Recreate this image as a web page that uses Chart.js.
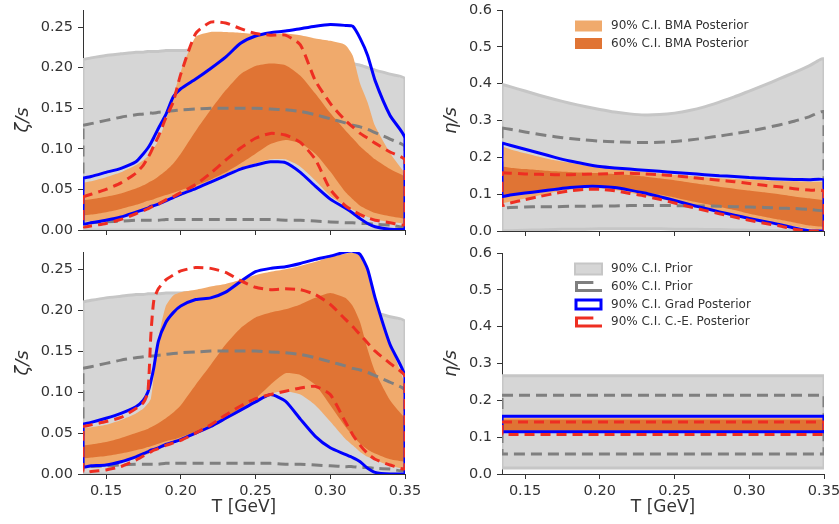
<!DOCTYPE html>
<html><head><meta charset="utf-8">
<script src="https://cdn.jsdelivr.net/npm/chart.js@4.4.0/dist/chart.umd.min.js"></script>
<style>
html,body{margin:0;padding:0;background:#fff;}
#wrap{position:relative;width:839px;height:524px;overflow:hidden;background:#fff;}
canvas{position:absolute;}
</style></head><body>
<div id="wrap">
<canvas id="cTL" width="440" height="250" style="left:0;top:0;width:440px;height:250px"></canvas>
<canvas id="cBL" width="440" height="279" style="left:0;top:245px;width:440px;height:279px"></canvas>
<canvas id="cTR" width="419" height="250" style="left:420px;top:0;width:419px;height:250px"></canvas>
<canvas id="cBR" width="419" height="279" style="left:420px;top:245px;width:419px;height:279px"></canvas>
</div>
<script>
// ---------- DATA ----------
const xTicks = [0.15, 0.20, 0.25, 0.30, 0.35];
const zetaTicks = [0.00, 0.05, 0.10, 0.15, 0.20, 0.25];
const etaTicks = [0.0, 0.1, 0.2, 0.3, 0.4, 0.5, 0.6];
const legendBMA = ['90% C.I. BMA Posterior', '60% C.I. BMA Posterior'];
const legendMain = ['90% C.I. Prior', '60% C.I. Prior', '90% C.I. Grad Posterior', '90% C.I. C.-E. Posterior'];

// temperature grid for zeta/s panels
const T = [0.1346,0.14,0.15,0.16,0.17,0.175,0.178,0.18,0.182,0.185,0.19,0.195,0.20,0.21,0.22,0.23,0.24,0.25,0.26,0.27,0.28,0.29,0.30,0.31,0.315,0.32,0.325,0.33,0.34,0.35];

// prior (zeta/s)
const priorZeta90Hi = [0.210,0.212,0.215,0.217,0.219,0.219,0.220,0.220,0.220,0.220,0.221,0.221,0.221,0.222,0.222,0.222,0.222,0.222,0.221,0.220,0.218,0.215,0.212,0.207,0.205,0.203,0.200,0.197,0.192,0.186];
const priorZeta90Lo = [0,0,0,0,0,0,0,0,0,0,0,0,0,0,0,0,0,0,0,0,0,0,0,0,0,0,0,0,0,0];
const priorZeta60Hi = [0.129,0.131,0.135,0.139,0.142,0.143,0.144,0.144,0.144,0.145,0.146,0.147,0.148,0.149,0.150,0.150,0.150,0.150,0.149,0.148,0.146,0.142,0.137,0.132,0.129,0.127,0.124,0.120,0.112,0.102];
const priorZeta60Lo = [0.008,0.009,0.010,0.011,0.012,0.012,0.012,0.012,0.012,0.012,0.013,0.013,0.013,0.013,0.013,0.013,0.013,0.013,0.013,0.012,0.012,0.011,0.010,0.009,0.009,0.008,0.008,0.007,0.006,0.005];

// top-left zeta/s posteriors
const tlGradHi = [0.064,0.066,0.071,0.076,0.084,0.094,0.101,0.107,0.114,0.125,0.142,0.164,0.174,0.186,0.199,0.213,0.230,0.239,0.243,0.245,0.248,0.251,0.253,0.252,0.251,0.236,0.215,0.184,0.141,0.113];
const tlGradLo = [0.008,0.009,0.012,0.016,0.022,0.025,0.027,0.029,0.030,0.032,0.036,0.040,0.044,0.051,0.059,0.067,0.075,0.080,0.084,0.083,0.071,0.054,0.038,0.027,0.021,0.014,0.008,0.004,0.001,0.001];
const tlCEHi = [0.041,0.044,0.050,0.058,0.070,0.080,0.089,0.096,0.104,0.115,0.138,0.158,0.192,0.242,0.256,0.255,0.248,0.242,0.240,0.240,0.228,0.184,0.156,0.135,0.127,0.119,0.113,0.107,0.096,0.086];
const tlCELo = [0.004,0.005,0.008,0.013,0.020,0.024,0.026,0.028,0.030,0.032,0.037,0.041,0.046,0.056,0.070,0.086,0.101,0.113,0.119,0.117,0.108,0.087,0.050,0.030,0.024,0.019,0.015,0.012,0.009,0.007];
const tlBma90Hi = [0.058,0.060,0.065,0.071,0.080,0.086,0.091,0.095,0.101,0.110,0.135,0.165,0.195,0.238,0.244,0.244,0.243,0.241,0.241,0.242,0.240,0.236,0.233,0.228,0.215,0.180,0.157,0.128,0.095,0.070];
const tlBma90Lo = [0.010,0.011,0.013,0.017,0.023,0.026,0.028,0.030,0.031,0.034,0.038,0.042,0.046,0.053,0.061,0.069,0.077,0.082,0.087,0.087,0.078,0.061,0.042,0.030,0.025,0.020,0.016,0.013,0.010,0.008];
const tlBma60Hi = [0.037,0.038,0.041,0.045,0.051,0.055,0.058,0.060,0.062,0.066,0.073,0.082,0.094,0.122,0.148,0.172,0.192,0.202,0.205,0.203,0.190,0.168,0.144,0.123,0.113,0.103,0.095,0.087,0.075,0.066];
const tlBma60Lo = [0.018,0.019,0.022,0.026,0.031,0.034,0.036,0.037,0.038,0.040,0.043,0.046,0.049,0.055,0.062,0.071,0.082,0.094,0.106,0.111,0.107,0.094,0.072,0.047,0.038,0.030,0.025,0.021,0.017,0.014];

// bottom-left zeta/s posteriors
const blGradHi = [0.061,0.063,0.068,0.074,0.082,0.090,0.100,0.113,0.130,0.162,0.185,0.197,0.205,0.213,0.215,0.222,0.235,0.247,0.251,0.253,0.257,0.262,0.266,0.271,0.272,0.268,0.250,0.215,0.158,0.119];
const blGradLo = [0.009,0.010,0.011,0.015,0.021,0.025,0.027,0.029,0.030,0.032,0.036,0.039,0.042,0.050,0.058,0.068,0.078,0.088,0.097,0.089,0.067,0.046,0.032,0.024,0.020,0.015,0.007,0.002,0.000,0.000];
const blCEHi = [0.058,0.060,0.064,0.069,0.080,0.087,0.100,0.170,0.212,0.226,0.237,0.243,0.248,0.252,0.251,0.246,0.236,0.228,0.225,0.226,0.225,0.219,0.207,0.189,0.180,0.170,0.160,0.150,0.135,0.119];
const blCELo = [0.002,0.003,0.005,0.009,0.017,0.022,0.025,0.027,0.029,0.031,0.035,0.038,0.041,0.050,0.060,0.072,0.083,0.092,0.097,0.101,0.105,0.107,0.097,0.064,0.048,0.035,0.025,0.018,0.011,0.007];
const blBma90Hi = [0.056,0.057,0.060,0.066,0.074,0.080,0.086,0.092,0.120,0.165,0.205,0.218,0.222,0.225,0.229,0.232,0.237,0.243,0.247,0.250,0.254,0.259,0.265,0.269,0.270,0.266,0.248,0.215,0.160,0.110];
const blBma90Lo = [0.007,0.008,0.011,0.014,0.019,0.022,0.024,0.026,0.028,0.030,0.034,0.038,0.041,0.048,0.056,0.066,0.076,0.088,0.098,0.101,0.097,0.084,0.064,0.043,0.035,0.027,0.021,0.017,0.010,0.006];
const blBma60Hi = [0.035,0.036,0.039,0.044,0.050,0.053,0.055,0.057,0.059,0.062,0.068,0.075,0.084,0.109,0.133,0.158,0.178,0.191,0.197,0.201,0.207,0.215,0.221,0.215,0.205,0.185,0.152,0.125,0.090,0.068];
const blBma60Lo = [0.019,0.020,0.022,0.025,0.029,0.031,0.033,0.034,0.035,0.037,0.040,0.042,0.045,0.052,0.060,0.070,0.080,0.092,0.109,0.123,0.121,0.109,0.084,0.058,0.047,0.037,0.030,0.025,0.018,0.015];

// temperature grid for top-right eta/s panel
const TE = [0.1346,0.14,0.15,0.16,0.17,0.18,0.19,0.20,0.21,0.22,0.23,0.24,0.25,0.26,0.27,0.28,0.29,0.30,0.31,0.32,0.33,0.34,0.35];
const trPrior90Hi = [0.398,0.392,0.380,0.368,0.357,0.347,0.338,0.330,0.323,0.318,0.315,0.316,0.320,0.327,0.337,0.350,0.364,0.380,0.396,0.413,0.430,0.448,0.466];
const trPrior90Lo = [0.000,0.001,0.002,0.003,0.004,0.005,0.005,0.006,0.006,0.006,0.006,0.006,0.005,0.005,0.004,0.004,0.003,0.002,0.002,0.001,0.001,0.000,0.000];
const trPrior60Hi = [0.280,0.276,0.269,0.262,0.256,0.251,0.247,0.244,0.242,0.241,0.240,0.241,0.243,0.247,0.252,0.258,0.264,0.271,0.279,0.288,0.298,0.310,0.323];
const trPrior60Lo = [0.064,0.064,0.065,0.066,0.066,0.067,0.067,0.068,0.068,0.069,0.069,0.069,0.069,0.068,0.068,0.067,0.066,0.065,0.064,0.062,0.061,0.059,0.058];
const trGradHi = [0.239,0.233,0.222,0.211,0.200,0.190,0.182,0.175,0.171,0.168,0.165,0.162,0.159,0.156,0.153,0.150,0.148,0.145,0.143,0.141,0.140,0.139,0.138];
const trGradLo = [0.095,0.098,0.103,0.108,0.113,0.118,0.121,0.121,0.118,0.111,0.103,0.093,0.083,0.072,0.062,0.052,0.043,0.034,0.026,0.018,0.008,0.001,0.000];
const trCEHi = [0.158,0.157,0.155,0.154,0.153,0.153,0.154,0.155,0.156,0.157,0.155,0.153,0.150,0.146,0.142,0.138,0.134,0.129,0.124,0.120,0.115,0.111,0.107];
const trCELo = [0.070,0.076,0.085,0.094,0.102,0.109,0.113,0.113,0.109,0.102,0.095,0.086,0.076,0.066,0.056,0.047,0.038,0.029,0.021,0.014,0.005,0.000,0.000];
const trBma90Hi = [0.230,0.222,0.211,0.201,0.192,0.185,0.178,0.172,0.168,0.164,0.160,0.156,0.152,0.149,0.146,0.143,0.141,0.139,0.138,0.136,0.135,0.134,0.134];
const trBma90Lo = [0.075,0.080,0.088,0.097,0.106,0.112,0.116,0.116,0.111,0.104,0.096,0.088,0.079,0.069,0.060,0.051,0.043,0.036,0.028,0.020,0.013,0.007,0.004];
const trBma60Hi = [0.175,0.172,0.168,0.165,0.162,0.160,0.158,0.157,0.155,0.152,0.148,0.143,0.138,0.132,0.126,0.120,0.115,0.110,0.105,0.100,0.094,0.089,0.084];
const trBma60Lo = [0.093,0.097,0.102,0.108,0.113,0.117,0.120,0.120,0.117,0.113,0.106,0.099,0.091,0.082,0.074,0.066,0.057,0.047,0.039,0.031,0.023,0.015,0.011];

// bottom-right eta/s panel (constant in T)
const TC = [0.1346, 0.35];
const brPrior90Hi = [0.267, 0.267];
const brPrior90Lo = [0.016, 0.016];
const brPrior60Hi = [0.214, 0.214];
const brPrior60Lo = [0.054, 0.054];
const brGradHi = [0.157, 0.157];
const brGradLo = [0.115, 0.115];
const brCEHi = [0.141, 0.141];
const brCELo = [0.107, 0.107];
const brBma90Hi = [0.153, 0.153];
const brBma90Lo = [0.113, 0.113];
const brBma60Hi = [0.148, 0.148];
const brBma60Lo = [0.118, 0.118];

// ---------- STYLE ----------
const X_MIN = 0.1346, X_MAX = 0.35;
const C_PRIOR_FILL = '#d6d6d6';
const C_PRIOR_EDGE = '#c6c6c6';
const C_PRIOR60 = '#7f7f7f';
const C_BLUE = '#0000ff';
const C_RED = '#ee2e22';
const C_LIGHT = '#f0aa6c';
const C_DARK = '#e07434';
const C_TEXT = '#333333';
const DASH_RED = [10, 6];
const DASH_GRAY = [11, 6];

Chart.defaults.font.family = "'DejaVu Sans', sans-serif";

function pts(xs, ys) { return xs.map((x, i) => ({x: x, y: ys[i]})); }
function ring(xs, hi, lo) {
  const a = xs.map((x, i) => ({x: x, y: hi[i]}));
  const b = xs.map((x, i) => ({x: x, y: lo[i]})).reverse();
  return a.concat(b, [a[0]]);
}
function band(xs, hi, lo, color, order, tension) {
  return [
    {data: pts(xs, hi), fill: '+1', backgroundColor: color, borderColor: 'rgba(0,0,0,0)', borderWidth: 0, pointRadius: 0, order: order, tension: tension},
    {data: pts(xs, lo), fill: false, backgroundColor: color, borderColor: 'rgba(0,0,0,0)', borderWidth: 0, pointRadius: 0, order: order, tension: tension}
  ];
}
function outline(xs, hi, lo, color, width, dash, order, tension) {
  return {data: ring(xs, hi, lo), fill: false, borderColor: color, borderWidth: width, borderDash: dash,
          borderJoinStyle: 'miter', pointRadius: 0, order: order, tension: tension};
}
function panelDatasets(xs, s, tension) {
  return [].concat(
    [outline(xs, s.ceHi, s.ceLo, C_RED, 3, DASH_RED, 0, tension)],
    [outline(xs, s.gradHi, s.gradLo, C_BLUE, 3, [], 1, tension)],
    [outline(xs, s.p60Hi, s.p60Lo, C_PRIOR60, 3, DASH_GRAY, 2, tension)],
    band(xs, s.b60Hi, s.b60Lo, C_DARK, 3, tension),
    band(xs, s.b90Hi, s.b90Lo, C_LIGHT, 4, tension),
    [outline(xs, s.p90Hi, s.p90Lo, C_PRIOR_EDGE, 3, [], 5, tension)],
    band(xs, s.p90Hi, s.p90Lo, C_PRIOR_FILL, 6, tension)
  );
}

function drawGlyph(ctx, kind, x, y, w, h) {
  ctx.save();
  ctx.setLineDash([]);
  if (kind === 'light' || kind === 'dark') {
    ctx.fillStyle = kind === 'light' ? C_LIGHT : C_DARK;
    ctx.fillRect(x, y, w, h);
  } else if (kind === 'prior90') {
    ctx.fillStyle = C_PRIOR_FILL; ctx.fillRect(x, y, w, h);
    ctx.strokeStyle = C_PRIOR_EDGE; ctx.lineWidth = 2; ctx.strokeRect(x, y, w, h);
  } else if (kind === 'grad') {
    ctx.fillStyle = '#fff'; ctx.fillRect(x, y, w, h);
    ctx.strokeStyle = C_BLUE; ctx.lineWidth = 3; ctx.strokeRect(x + 1, y + 1, w - 2, h - 2);
  } else {
    ctx.strokeStyle = kind === 'prior60' ? C_PRIOR60 : C_RED;
    ctx.lineWidth = 3; ctx.lineCap = 'butt';
    ctx.beginPath();
    ctx.moveTo(x + w * 0.68, y + 1.5); ctx.lineTo(x + 1.5, y + 1.5);
    ctx.lineTo(x + 1.5, y + h - 1.5); ctx.lineTo(x + w, y + h - 1.5);
    ctx.stroke();
  }
  ctx.restore();
}
function legendPlugin(labels, kinds, x0, rows) {
  return {
    id: 'customLegend',
    afterDraw(chart) {
      const ctx = chart.ctx;
      ctx.save();
      ctx.fillStyle = 'rgba(255,255,255,0.8)';
      ctx.fillRect(x0 - 8, rows[0] - 14, 190, rows[rows.length - 1] - rows[0] + 28);
      labels.forEach((lab, i) => {
        drawGlyph(ctx, kinds[i], x0, rows[i] - 5.5, 27, 11);
        ctx.fillStyle = C_TEXT;
        ctx.font = "12px 'DejaVu Sans', sans-serif";
        ctx.textBaseline = 'middle';
        ctx.textAlign = 'left';
        ctx.fillText(lab, x0 + 36, rows[i]);
      });
      ctx.restore();
    }
  };
}

function makeChart(id, datasets, o) {
  const tickGrid = {display: true, drawOnChartArea: false, drawTicks: true, tickLength: 5, tickWidth: 1, tickColor: C_TEXT};
  return new Chart(document.getElementById(id), {
    type: 'line',
    data: {datasets: datasets},
    options: {
      responsive: false, animation: false, devicePixelRatio: 1, events: [],
      layout: {padding: {left: 0, right: o.padR, top: o.padT, bottom: 0}},
      plugins: {legend: {display: false}, tooltip: {enabled: false}},
      elements: {point: {radius: 0}},
      scales: {
        x: {
          type: 'linear', min: X_MIN, max: X_MAX, z: 1,
          afterBuildTicks: s => { s.ticks = xTicks.map(v => ({value: v})); },
          afterFit: s => { s.height = o.xh; s.paddingLeft = 0; s.paddingRight = 0; },
          grid: tickGrid,
          border: {display: true, color: C_TEXT, width: 1},
          ticks: {autoSkip: false, maxRotation: 0, padding: 4, color: C_TEXT, font: {size: 14.5},
                  callback: v => (o.showX ? Number(v).toFixed(2) : '')},
          title: {display: o.showX, text: 'T [GeV]', color: C_TEXT, font: {size: 17}, padding: {top: 0, bottom: 6}}
        },
        y: {
          type: 'linear', min: 0, max: o.ymax, z: 1,
          afterBuildTicks: s => { s.ticks = o.yTicks.map(v => ({value: v})); },
          afterFit: s => { s.width = o.yw; s.paddingTop = 0; s.paddingBottom = 0; },
          grid: tickGrid,
          border: {display: true, color: C_TEXT, width: 1},
          ticks: {padding: 5, color: C_TEXT, font: {size: 14.5}, callback: v => Number(v).toFixed(o.ydec)},
          title: {display: true, text: o.ytitle, color: C_TEXT, font: {size: 18, style: 'italic'}, padding: {top: o.ytp, bottom: 0}}
        }
      }
    },
    plugins: o.legend ? [o.legend] : []
  });
}

makeChart('cTL', panelDatasets(T, {
  ceHi: tlCEHi, ceLo: tlCELo, gradHi: tlGradHi, gradLo: tlGradLo,
  p60Hi: priorZeta60Hi, p60Lo: priorZeta60Lo, p90Hi: priorZeta90Hi, p90Lo: priorZeta90Lo,
  b60Hi: tlBma60Hi, b60Lo: tlBma60Lo, b90Hi: tlBma90Hi, b90Lo: tlBma90Lo
}, 0.2), {padR: 35, padT: 10, xh: 20, yw: 83, ymax: 0.271, yTicks: zetaTicks, ydec: 2, ytitle: 'ζ/s', ytp: 13, showX: false});

makeChart('cBL', panelDatasets(T, {
  ceHi: blCEHi, ceLo: blCELo, gradHi: blGradHi, gradLo: blGradLo,
  p60Hi: priorZeta60Hi, p60Lo: priorZeta60Lo, p90Hi: priorZeta90Hi, p90Lo: priorZeta90Lo,
  b60Hi: blBma60Hi, b60Lo: blBma60Lo, b90Hi: blBma90Hi, b90Lo: blBma90Lo
}, 0.2), {padR: 35, padT: 7, xh: 50, yw: 83, ymax: 0.271, yTicks: zetaTicks, ydec: 2, ytitle: 'ζ/s', ytp: 13, showX: true});

makeChart('cTR', panelDatasets(TE, {
  ceHi: trCEHi, ceLo: trCELo, gradHi: trGradHi, gradLo: trGradLo,
  p60Hi: trPrior60Hi, p60Lo: trPrior60Lo, p90Hi: trPrior90Hi, p90Lo: trPrior90Lo,
  b60Hi: trBma60Hi, b60Lo: trBma60Lo, b90Hi: trBma90Hi, b90Lo: trBma90Lo
}, 0.2), {padR: 15, padT: 10, xh: 19, yw: 82, ymax: 0.6, yTicks: etaTicks, ydec: 1, ytitle: 'η/s', ytp: 21, showX: false,
     legend: legendPlugin(legendBMA, ['light', 'dark'], 155, [26, 43.5])});

makeChart('cBR', panelDatasets(TC, {
  ceHi: brCEHi, ceLo: brCELo, gradHi: brGradHi, gradLo: brGradLo,
  p60Hi: brPrior60Hi, p60Lo: brPrior60Lo, p90Hi: brPrior90Hi, p90Lo: brPrior90Lo,
  b60Hi: brBma60Hi, b60Lo: brBma60Lo, b90Hi: brBma90Hi, b90Lo: brBma90Lo
}, 0), {padR: 15, padT: 8, xh: 50, yw: 82, ymax: 0.6, yTicks: etaTicks, ydec: 1, ytitle: 'η/s', ytp: 21, showX: true,
     legend: legendPlugin(legendMain, ['prior90', 'prior60', 'grad', 'ce'], 155, [24, 41.5, 59.5, 77])});
</script>
</body></html>
